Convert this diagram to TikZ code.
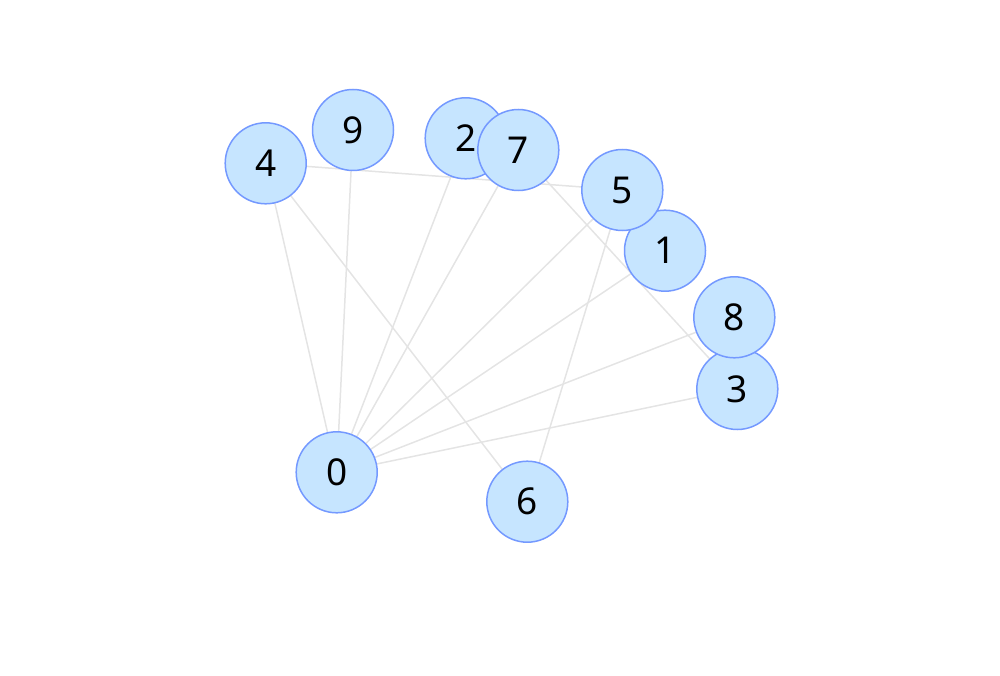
\documentclass[tikz,border=0pt]{standalone}
\usepackage{fontspec}
\setmainfont{Noto Sans}
\usetikzlibrary{backgrounds}
\definecolor{nodefill}{HTML}{C6E5FF}
\definecolor{nodeline}{HTML}{7499FF}
\definecolor{edgecol}{HTML}{E4E4E4}
\begin{document}
\begin{tikzpicture}[x=1pt,y=-1pt,
  vert/.style={circle,draw=nodeline,fill=nodefill,line width=1.5pt,minimum size=81pt,inner sep=0pt,font=\fontsize{37}{40}\selectfont},
  edge/.style={draw=edgecol,line width=1.5pt}]
\useasboundingbox (0,0) rectangle (1000,676);
\node[vert] (n0) at (336.7,472.3) {0};
\node[vert] (n1) at (665,250.7) {1};
\node[vert] (n2) at (465.7,138.3) {2};
\node[vert] (n3) at (737.3,389) {3};
\node[vert] (n4) at (265.7,163.3) {4};
\node[vert] (n5) at (622.3,190) {5};
\node[vert] (n6) at (527.3,501.7) {6};
\node[vert] (n7) at (518.3,150) {7};
\node[vert] (n8) at (734.3,317.3) {8};
\node[vert] (n9) at (353,130) {9};
\begin{scope}[on background layer]
\foreach \a/\b in {0/4,0/9,0/2,0/7,0/5,0/1,0/8,0/3,4/6,4/5,7/3,5/6}
  \draw[edge] (n\a.center) -- (n\b.center);
\end{scope}
\end{tikzpicture}
\end{document}
